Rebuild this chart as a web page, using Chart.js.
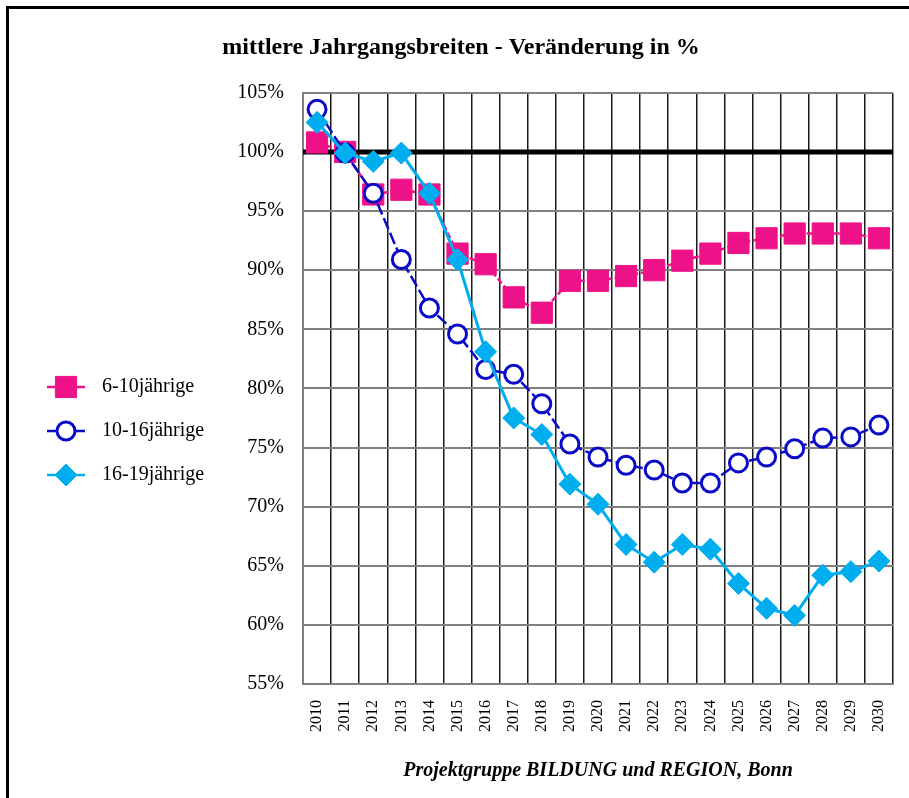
<!DOCTYPE html>
<html>
<head>
<meta charset="utf-8">
<title>mittlere Jahrgangsbreiten</title>
<script src="https://cdn.jsdelivr.net/npm/chart.js@4"></script>
<style>
  html, body { margin: 0; padding: 0; background: #fff; }
  #wrap { width: 909px; height: 798px; position: relative; }
</style>
</head>
<body>
<div id="wrap"><canvas id="chart"></canvas></div>
<script>
const years = ["2010", "2011", "2012", "2013", "2014", "2015", "2016", "2017", "2018", "2019", "2020",
    "2021", "2022", "2023", "2024", "2025", "2026", "2027", "2028", "2029", "2030"];

const age6to10 = [100.8, 100.0, 96.4, 96.8, 96.4, 91.4, 90.5, 87.7, 86.4, 89.1, 89.1,
    89.5, 90.0, 90.8, 91.4, 92.3, 92.7, 93.1, 93.1, 93.1, 92.7];
const age10to16 = [103.6, 99.9, 96.5, 90.9, 86.8, 84.6, 81.6, 81.2, 78.7, 75.3, 74.2,
    73.5, 73.1, 72.0, 72.0, 73.7, 74.2, 74.9, 75.8, 75.9, 76.9];
const age16to19 = [102.5, 99.9, 99.2, 99.9, 96.5, 90.9, 83.1, 77.5, 76.1, 71.9, 70.2,
    66.8, 65.3, 66.8, 66.4, 63.5, 61.4, 60.8, 64.2, 64.5, 65.4];

const seriesNames = ['6-10jährige', '10-16jährige', '16-19jährige'];
const baseline = 100;
const yMin = 55, yMax = 105, yStep = 5;

const titleText = 'mittlere Jahrgangsbreiten - Veränderung in %';
const footerText = 'Projektgruppe BILDUNG und REGION, Bonn';

const serif = '"Liberation Serif", "Times New Roman", Times, serif';
const pink = '#EE1289';
const navy = '#0A0AC8';
const cyan = '#00AEEF';

// white page + frame at top/left
const framePlugin = {
    id: 'frame',
    beforeDraw(chart) {
        const c = chart.ctx;
        c.save();
        c.fillStyle = '#fff';
        c.fillRect(0, 0, chart.width, chart.height);
        c.strokeStyle = '#000';
        c.lineWidth = 3;
        c.beginPath();
        c.moveTo(7.5, chart.height);
        c.lineTo(7.5, 7.5);
        c.lineTo(chart.width, 7.5);
        c.stroke();
        c.restore();
    }
};

// thick 100% line
const baselinePlugin = {
    id: 'baseline',
    beforeDatasetsDraw(chart) {
        const c = chart.ctx;
        const y = chart.scales.y.getPixelForValue(baseline);
        c.save();
        c.strokeStyle = '#000';
        c.lineWidth = 5;
        c.beginPath();
        c.moveTo(chart.chartArea.left, y);
        c.lineTo(chart.chartArea.right, y);
        c.stroke();
        c.restore();
    }
};

function marker(c, style, x, y, r) {
    c.beginPath();
    if (style === 'rect') {
        const s = Math.SQRT1_2 * r;
        c.rect(x - s, y - s, 2 * s, 2 * s);
    } else if (style === 'rectRot') {
        c.moveTo(x - r, y);
        c.lineTo(x, y - r);
        c.lineTo(x + r, y);
        c.lineTo(x, y + r);
        c.closePath();
    } else {
        c.arc(x, y, r, 0, Math.PI * 2);
    }
    c.fill();
    c.stroke();
}

// legend on the left, footer under the plot
const sidePlugin = {
    id: 'side',
    afterDraw(chart) {
        const c = chart.ctx;
        c.save();
        const legendOrder = [2, 1, 0];
        legendOrder.forEach((dsIndex, i) => {
            const ds = chart.data.datasets.find(d => d.order === dsIndex + 1);
            const y = 387 + i * 44;
            c.strokeStyle = ds.borderColor;
            c.lineWidth = 2.5;
            c.setLineDash([]);
            c.beginPath();
            c.moveTo(47, y);
            c.lineTo(85, y);
            c.stroke();
            c.fillStyle = ds.pointBackgroundColor;
            c.strokeStyle = ds.pointBorderColor;
            c.lineWidth = ds.pointBorderWidth;
            marker(c, ds.pointStyle, 66, y, ds.pointRadius);
            c.fillStyle = '#000';
            c.font = '20px ' + serif;
            c.textAlign = 'left';
            c.textBaseline = 'middle';
            c.fillText(ds.label, 102, y);
        });
        const a = chart.chartArea;
        c.font = 'italic bold 20px ' + serif;
        c.textAlign = 'center';
        c.textBaseline = 'middle';
        c.fillStyle = '#000';
        c.fillText(footerText, (a.left + a.right) / 2, 771);
        c.restore();
    }
};

const data = {
    labels: years,
    datasets: [
        {
            label: seriesNames[2],
            data: age16to19,
            order: 1,
            borderColor: cyan,
            backgroundColor: cyan,
            borderWidth: 3,
            pointStyle: 'rectRot',
            pointRadius: 11,
            pointBackgroundColor: cyan,
            pointBorderColor: cyan,
            pointBorderWidth: 1,
            tension: 0,
        },
        {
            label: seriesNames[1],
            data: age10to16,
            order: 2,
            borderColor: navy,
            backgroundColor: navy,
            borderWidth: 2.5,
            borderDash: [12, 4],
            pointStyle: 'circle',
            pointRadius: 9,
            pointBackgroundColor: '#fff',
            pointBorderColor: navy,
            pointBorderWidth: 3,
            tension: 0,
        },
        {
            label: seriesNames[0],
            data: age6to10,
            order: 3,
            borderColor: pink,
            backgroundColor: pink,
            borderWidth: 2.5,
            borderDash: [6, 3],
            pointStyle: 'rect',
            pointRadius: 15,
            pointBackgroundColor: pink,
            pointBorderColor: pink,
            pointBorderWidth: 1,
            tension: 0,
        }
    ]
};

const config = {
    type: 'line',
    data: data,
    plugins: [framePlugin, baselinePlugin, sidePlugin],
    options: {
        responsive: true,
        maintainAspectRatio: false,
        animation: false,
        layout: {
            padding: { left: 28, right: 15, top: 0, bottom: 50 }
        },
        plugins: {
            legend: { display: false },
            tooltip: { enabled: false },
            title: {
                display: true,
                text: titleText,
                color: '#000',
                font: { family: serif, size: 24, weight: 'bold' },
                padding: { top: 33, bottom: 31 }
            }
        },
        scales: {
            x: {
                offset: true,
                grid: {
                    offset: true,
                    drawTicks: false,
                    color: (ctx) => (ctx.index === 0 || ctx.index === years.length) ? '#808080' : '#1a1a1a',
                    lineWidth: (ctx) => (ctx.index === 0 || ctx.index === years.length) ? 2 : 1.5,
                },
                border: { color: '#808080', width: 2 },
                ticks: {
                    color: '#000',
                    font: { family: serif, size: 16 },
                    minRotation: 90,
                    maxRotation: 90,
                    autoSkip: false,
                    padding: 16,
                },
                afterFit(scale) {
                    scale.height = 64;
                    scale.paddingLeft = 0;
                    scale.paddingRight = 0;
                }
            },
            y: {
                min: yMin,
                max: yMax,
                grid: {
                    drawTicks: false,
                    color: '#808080',
                    lineWidth: 2,
                },
                border: { color: '#808080', width: 2 },
                ticks: {
                    stepSize: yStep,
                    color: '#000',
                    font: { family: serif, size: 20 },
                    padding: 19,
                    callback: (v) => v + '%'
                },
                afterFit(scale) { scale.width = 275; }
            }
        }
    }
};

const myChart = new Chart(document.getElementById('chart'), config);
</script>
</body>
</html>
